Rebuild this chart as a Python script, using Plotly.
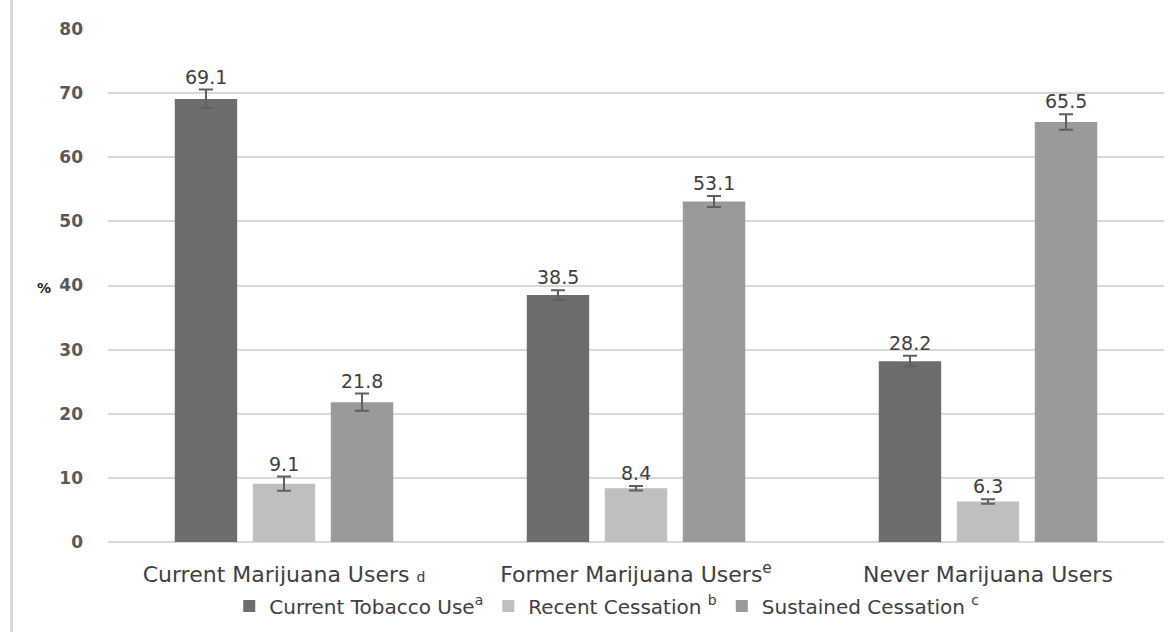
import plotly.graph_objects as go

FONT = "DejaVu Sans"

categories = [
    "Current Marijuana Users <span style='font-size:14px'>d</span>",
    "Former Marijuana Users<sup>e</sup>",
    "Never Marijuana Users",
]
series_names = [
    "Current Tobacco Use<sup>a</sup>",
    "Recent Cessation <sup>b</sup>",
    "Sustained Cessation <sup>c</sup>",
]
tobacco = [69.1, 38.5, 28.2]
recent = [9.1, 8.4, 6.3]
sustained = [21.8, 53.1, 65.5]
tobacco_err = [1.45, 0.75, 0.85]
recent_err = [1.1, 0.35, 0.35]
sustained_err = [1.35, 0.85, 1.2]
y_ticks = [0, 10, 20, 30, 40, 50, 60, 70, 80]

colors = ["#6d6d6d", "#bfbfbf", "#9a9a9a"]
values = [tobacco, recent, sustained]
errors = [tobacco_err, recent_err, sustained_err]

fig = go.Figure()
for name, vals, errs, col in zip(series_names, values, errors, colors):
    fig.add_trace(go.Bar(
        x=categories, y=vals, name=name,
        marker=dict(color=col, line=dict(width=0)),
        error_y=dict(type="data", array=errs, visible=True,
                     color="#5f5f5f", thickness=2, width=7),
    ))

# data labels above the error bars
offsets = [-0.2216, 0.0, 0.2216]
for j, (vals, errs) in enumerate(zip(values, errors)):
    for i, (v, e) in enumerate(zip(vals, errs)):
        fig.add_annotation(x=i + offsets[j], y=v + e, text=f"{v}",
                           showarrow=False, yanchor="bottom", yshift=0,
                           font=dict(family=FONT, size=19, color="#404040"))

fig.add_annotation(xref="paper", yref="paper", x=-0.069, y=0.496, text="<b>%</b>",
                   showarrow=False, font=dict(family=FONT, size=14, color="#222222"))

fig.add_shape(type="line", xref="paper", yref="paper",
              x0=-0.0914, x1=-0.0914, y0=-0.18, y1=1.07,
              line=dict(color="#d9d9d9", width=3))

fig.update_layout(
    width=1172, height=632,
    margin=dict(l=108, r=8, t=29, b=89),
    paper_bgcolor="white", plot_bgcolor="white",
    barmode="group", bargap=0.335, bargroupgap=0.2,
    font=dict(family=FONT, color="#404040"),
    showlegend=True,
    legend=dict(orientation="h", x=0.4723, xanchor="center", y=-0.1226, yanchor="middle",
                font=dict(family=FONT, size=20, color="#404040"),
                itemwidth=30, traceorder="normal", tracegroupgap=0),
    xaxis=dict(showgrid=False, showline=False, zeroline=False,
               tickfont=dict(family=FONT, size=22, color="#404040"),
               ticklabelstandoff=17),
    yaxis=dict(range=[0, 80], tickvals=y_ticks, showgrid=True, gridcolor="#d9d9d9",
               gridwidth=1.5, zeroline=True, zerolinecolor="#d9d9d9", zerolinewidth=1.5,
               showline=False,
               tickfont=dict(family=FONT, size=17, color="#595959", weight="bold"),
               ticklabelstandoff=24),
)

fig.write_html("out.html")
